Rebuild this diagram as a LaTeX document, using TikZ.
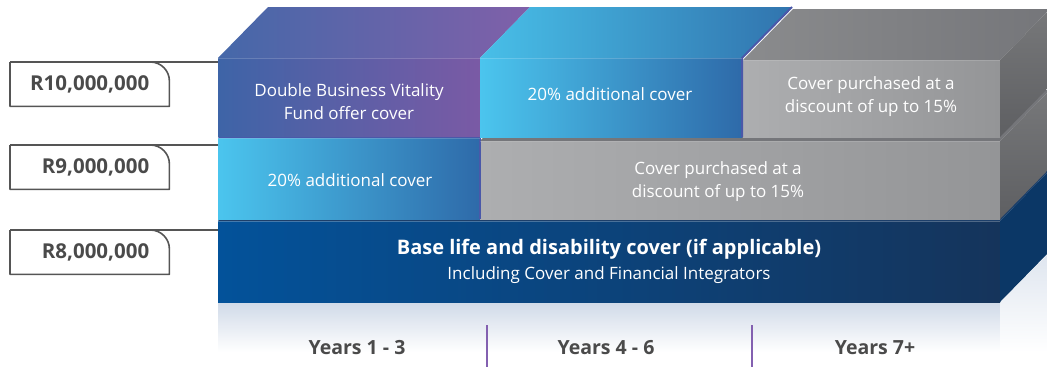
\documentclass[tikz,border=0pt]{standalone}
\usepackage{fontspec}
\setmainfont{Open Sans}
\definecolor{purL}{HTML}{3E64A7}
\definecolor{purR}{HTML}{7A5AA5}
\definecolor{purTL}{HTML}{4568A9}
\definecolor{purTR}{HTML}{8060A9}
\definecolor{cyL}{HTML}{4BC5EE}
\definecolor{cyR}{HTML}{2E6AA9}
\definecolor{cyTL}{HTML}{48BFE8}
\definecolor{cyTR}{HTML}{3174AE}
\definecolor{gyL}{HTML}{ADAEB0}
\definecolor{gyR}{HTML}{949597}
\definecolor{gyTL}{HTML}{8A8B8D}
\definecolor{gyTR}{HTML}{75767A}
\definecolor{gySt}{HTML}{77787A}
\definecolor{gySb}{HTML}{5E5F62}
\definecolor{dbL}{HTML}{03529A}
\definecolor{dbR}{HTML}{15345B}
\definecolor{dbS}{HTML}{0B3766}
\definecolor{dbT}{HTML}{1D3F6A}
\definecolor{labtxt}{HTML}{4A4A4A}
\definecolor{labline}{HTML}{555555}
\definecolor{sepc}{HTML}{8360B0}
\definecolor{vioedge}{HTML}{4A58A9}
\definecolor{refl}{HTML}{D0DAE8}
\begin{document}
\begin{tikzpicture}[x=1pt,y=-1pt,
  face/.style={inner sep=0pt,outer sep=0pt,anchor=north west},
  tab/.style={anchor=north west,minimum height=44pt,text width=119pt,inner xsep=20pt,inner ysep=0pt,align=right,text=labtxt,font=\bfseries\fontsize{20.5}{24}\selectfont},
  tabline/.style={draw=labline,line width=1.6pt},
  wtxt/.style={text=white,align=center,font=\fontsize{17}{23}\selectfont},
  btxt/.style={text=white,font=\bfseries\fontsize{20}{24}\selectfont},
  stxt/.style={text=white,font=\fontsize{17}{20}\selectfont},
  ytxt/.style={text=labtxt,font=\bfseries\fontsize{19.5}{23}\selectfont},
  sepline/.style={draw=sepc,line width=1.6pt},
  edge/.style={draw=vioedge,line width=2pt}]
\useasboundingbox (0,0) rectangle (1047,367);
\clip (0,0) rectangle (1047,367);

% reflection under the base block
\shade[top color=refl,bottom color=white] (218,302) rectangle (1000,352);
\shade[top color=refl!70,bottom color=white] (1000,302) -- (1050,252) -- (1050,352) -- (1000,352) -- cycle;

% base block
\node[face,left color=dbL,right color=dbR,minimum width=782pt,minimum height=81pt] (fB) at (218,221) {};
\fill[dbT] (fB.north west) -- ++(50,-51) -- ++(782,0) -- (fB.north east) -- cycle;
\fill[dbS] (fB.north east) -- ++(50,-51) -- ++(0,81) -- (fB.south east) -- cycle;
\draw[white,opacity=0.25,line width=1pt] (fB.north west) -- (fB.north east);

% middle row
\node[face,left color=cyL,right color=cyR,minimum width=262pt,minimum height=81pt] (fC2) at (218,138) {};
\node[face,left color=gyL,right color=gyR,minimum width=520pt,minimum height=78pt] (fG2) at (480,141) {};
\fill[vioedge] (fC2.north west) -- ++(50,-51) -- ++(262,0) -- (fC2.north east) -- cycle;
\fill[gyTR] (fG2.north west) -- ++(50,-51) -- ++(520,0) -- (fG2.north east) -- cycle;
\shade[top color=gySt,bottom color=gySb] (fG2.north east) -- ++(50,-51) -- ++(0,78) -- (fG2.south east) -- cycle;
\draw[edge] (fC2.north east) -- (fC2.south east);

% top row
\node[face,left color=purL,right color=purR,minimum width=262pt,minimum height=78pt] (fP) at (218,58) {};
\node[face,left color=cyL,right color=cyR,minimum width=262pt,minimum height=79pt] (fC1) at (480,58) {};
\node[face,left color=gyL,right color=gyR,minimum width=257pt,minimum height=77pt] (fG1) at (743,60) {};
\shade[left color=purTL,right color=purTR] (fP.north west) -- ++(50,-51) -- ++(262,0) -- (fP.north east) -- cycle;
\shade[left color=cyTL,right color=cyTR] (fC1.north west) -- ++(50,-51) -- ++(262,0) -- (fC1.north east) -- cycle;
\shade[left color=gyTL,right color=gyTR] (fG1.north west) -- ++(50,-51) -- ++(257,0) -- (fG1.north east) -- cycle;
\shade[top color=gySt,bottom color=gySb] (fG1.north east) -- ++(50,-51) -- ++(0,77) -- (fG1.south east) -- cycle;
\draw[edge] (fC1.south east) -- (fC1.north east) -- ++(50,-51);
\foreach \f in {fP,fC1,fG1,fC2,fG2}{
  \draw[white,opacity=0.18,line width=0.8pt] (\f.north west) -- (\f.north east);
}

% block texts
\node[wtxt] (tP) at (349,102) {Double Business Vitality\\Fund offer cover};
\node[wtxt] (tC1) at (610,94) {20\% additional cover};
\node[wtxt] (tG1) at (871,97) {Cover purchased at a\\discount of up to 15\%};
\node[wtxt] (tC2) at (350,180) {20\% additional cover};
\node[wtxt] (tG2) at (718,182) {Cover purchased at a\\discount of up to 15\%};
\node[btxt] (tB1) at (609,249) {Base life and disability cover (if applicable)};
\node[stxt] (tB2) at (609,275) {Including Cover and Financial Integrators};

% years
\node[ytxt] (y1) at (357,348) {Years 1 - 3};
\node[ytxt] (y2) at (606,348) {Years 4 - 6};
\node[ytxt] (y3) at (875,348) {Years 7+};
\coordinate (s1t) at (487,325);
\coordinate (s2t) at (752,325);
\draw[sepline] (s1t) -- (s1t |- 0,367);
\draw[sepline] (s2t) -- (s2t |- 0,367);

% amount tabs
\node[tab] (l1) at (10,62) {R10,000,000};
\node[tab] (l2) at (10,145) {R9,000,000};
\node[tab] (l3) at (10,230) {R8,000,000};
\foreach \l/\f in {l1/fP,l2/fC2,l3/fB}{
  \draw[tabline] (\l.north west) -- (\l.north west -| \f.west);
  \draw[tabline,line join=round] ([xshift=-19pt]\l.north east) arc[start angle=90,end angle=0,radius=19pt] -- (\l.south east) -- (\l.south west) -- (\l.north west);
}
\end{tikzpicture}
\end{document}
